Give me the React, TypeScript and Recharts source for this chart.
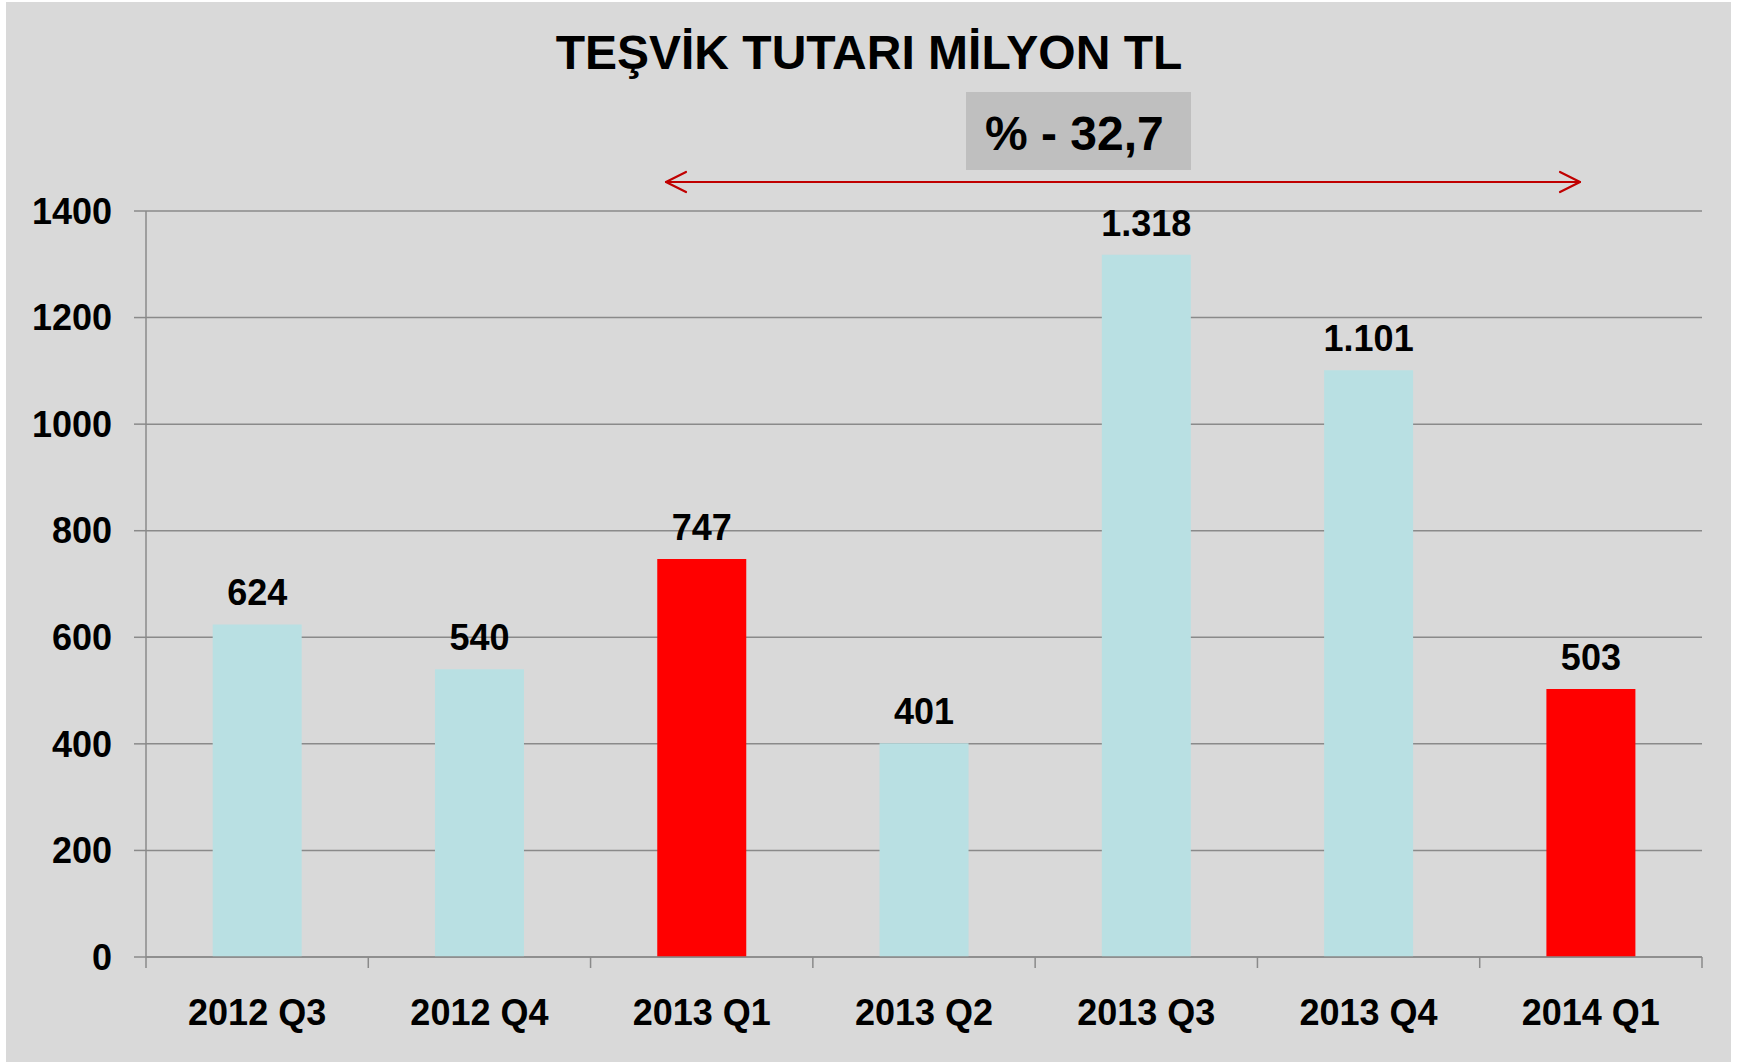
import React from 'react';
import { BarChart, Bar, XAxis, YAxis, CartesianGrid, Cell, LabelList } from 'recharts';

const categories = ['2012 Q3', '2012 Q4', '2013 Q1', '2013 Q2', '2013 Q3', '2013 Q4', '2014 Q1'];
const values = [624, 540, 747, 401, 1318, 1101, 503];
const highlighted = [false, false, true, false, false, false, true];
const yTicks = [0, 200, 400, 600, 800, 1000, 1200, 1400];
const titleText = 'TEŞVİK TUTARI MİLYON TL';
const changeText = '% - 32,7';

const data = categories.map((c, i) => ({ name: c, value: values[i], hi: highlighted[i] }));

const FONT = "'Liberation Sans', Arial, Helvetica, sans-serif";
const GRID = '#8a8a8a';

const fmt = (v: number) => {
  if (v >= 1000) {
    const th = Math.floor(v / 1000);
    const rest = String(v % 1000).padStart(3, '0');
    return `${th}.${rest}`;
  }
  return String(v);
};

const XTick = (props: any) => {
  const { x, y, payload, index } = props;
  const w = props.width && props.width > 0 ? props.width : 1556;
  const half = w / categories.length / 2;
  const last = index === categories.length - 1;
  return (
    <g>
      <line x1={x - half} y1={y} x2={x - half} y2={y + 11} stroke={GRID} strokeWidth={1.5} />
      {last && <line x1={x + half} y1={y} x2={x + half} y2={y + 11} stroke={GRID} strokeWidth={1.5} />}
      <text
        x={x}
        y={y + 68}
        textAnchor="middle"
        fontFamily={FONT}
        fontWeight="bold"
        fontSize={36}
        fill="#000"
      >
        {payload.value}
      </text>
    </g>
  );
};

export default function App() {
  return (
    <div style={{ position: 'absolute', left: 0, top: 0, width: 1738, height: 1062, background: '#ffffff', overflow: 'hidden' }}>
      <div style={{ position: 'absolute', left: 6, top: 2, width: 1725, height: 1060, background: '#d9d9d9' }} />
      <div style={{ position: 'absolute', left: 0, top: 0 }}>
        <BarChart
          width={1738}
          height={1062}
          data={data}
          margin={{ top: 211, right: 36, bottom: 45, left: 0 }}
          barCategoryGap="30%"
        >
          <CartesianGrid horizontal vertical={false} stroke={GRID} strokeWidth={1.5} />
          <XAxis
            dataKey="name"
            height={60}
            axisLine={{ stroke: GRID, strokeWidth: 1.5 }}
            tickLine={false}
            tickSize={0}
            tickMargin={0}
            tick={<XTick />}
            interval={0}
          />
          <YAxis
            width={146}
            domain={[0, 1400]}
            ticks={yTicks}
            interval={0}
            axisLine={{ stroke: GRID, strokeWidth: 1.5 }}
            tickLine={{ stroke: GRID, strokeWidth: 1.5 }}
            tickSize={12}
            tickMargin={22}
            tick={{ fontFamily: FONT, fontWeight: 'bold', fontSize: 36, fill: '#000' }}
          />
          <Bar dataKey="value" isAnimationActive={false}>
            {data.map((d, i) => (
              <Cell key={i} fill={d.hi ? '#ff0000' : '#b9e0e3'} />
            ))}
            <LabelList
              dataKey="value"
              position="top"
              offset={19}
              formatter={(v: any) => fmt(Number(v))}
              style={{ fontFamily: FONT, fontWeight: 'bold', fontSize: 36, fill: '#000' }}
            />
          </Bar>
        </BarChart>
      </div>
      <svg
        width={1738}
        height={1062}
        style={{ position: 'absolute', left: 0, top: 0, pointerEvents: 'none' }}
      >
        <text
          x={869}
          y={69}
          textAnchor="middle"
          fontFamily={FONT}
          fontWeight="bold"
          fontSize={48}
          fill="#000"
        >
          {titleText}
        </text>
        <rect x={966} y={92} width={225} height={78} fill="#bfbfbf" />
        <text
          x={985}
          y={150}
          fontFamily={FONT}
          fontWeight="bold"
          fontSize={48}
          fill="#000"
        >
          {changeText}
        </text>
        <g stroke="#c00000" strokeWidth={2.2} fill="none" strokeLinecap="round" strokeLinejoin="round">
          <line x1={666} y1={182} x2={1580} y2={182} />
          <polyline points="686,172 666,182 686,192" />
          <polyline points="1560,172 1580,182 1560,192" />
        </g>
      </svg>
    </div>
  );
}
